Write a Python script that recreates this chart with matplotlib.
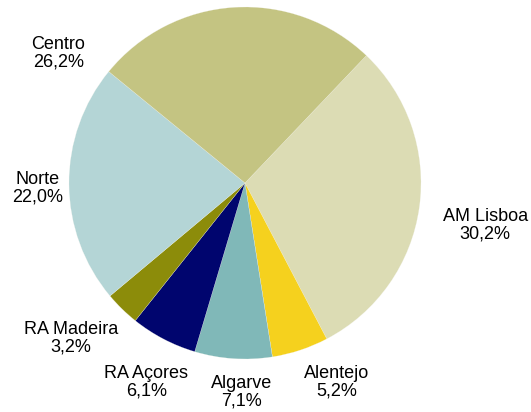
import matplotlib
matplotlib.use("Agg")
import matplotlib.pyplot as plt

plt.rcParams.update({"font.family": ["Liberation Sans", "DejaVu Sans"]})

# Data (clockwise from the Centro / AM Lisboa boundary)
regions = ["AM Lisboa", "Alentejo", "Algarve", "RA Açores", "RA Madeira", "Norte", "Centro"]
shares = [30.2, 5.2, 7.1, 6.1, 3.2, 22.0, 26.2]
colors = ["#DCDCB4", "#F5D11E", "#80B8B8", "#00056E", "#8C8C0A", "#B4D5D6", "#C4C482"]

# label anchors in pie-radius units (Excel-style manual placement)
label_pos = [(1.365, -0.24), (0.52, -1.13), (-0.02, -1.19), (-0.56, -1.13),
             (-0.99, -0.88), (-1.18, -0.03), (-1.06, 0.735)]

W, H = 531, 412
cx, cy, r = 245, 183, 176

fig = plt.figure(figsize=(W / 100, H / 100), dpi=100)
ax = fig.add_axes([(cx - r) / W, (H - cy - r) / H, 2 * r / W, 2 * r / H])
ax.pie(shares, colors=colors, startangle=46.4, counterclock=False,
       wedgeprops=dict(edgecolor="#F4F4EC", linewidth=0.15))
ax.set_xlim(-1, 1)
ax.set_ylim(-1, 1)
ax.set_aspect("equal")
ax.axis("off")

for name, val, (x, y) in zip(regions, shares, label_pos):
    txt = f"{name}\n{val:.1f}%".replace(".", ",")
    ax.text(x, y, txt, ha="center", va="center", fontsize=13, color="black",
            linespacing=1.05, clip_on=False)

fig.savefig("out.png", dpi=100, facecolor="white")
